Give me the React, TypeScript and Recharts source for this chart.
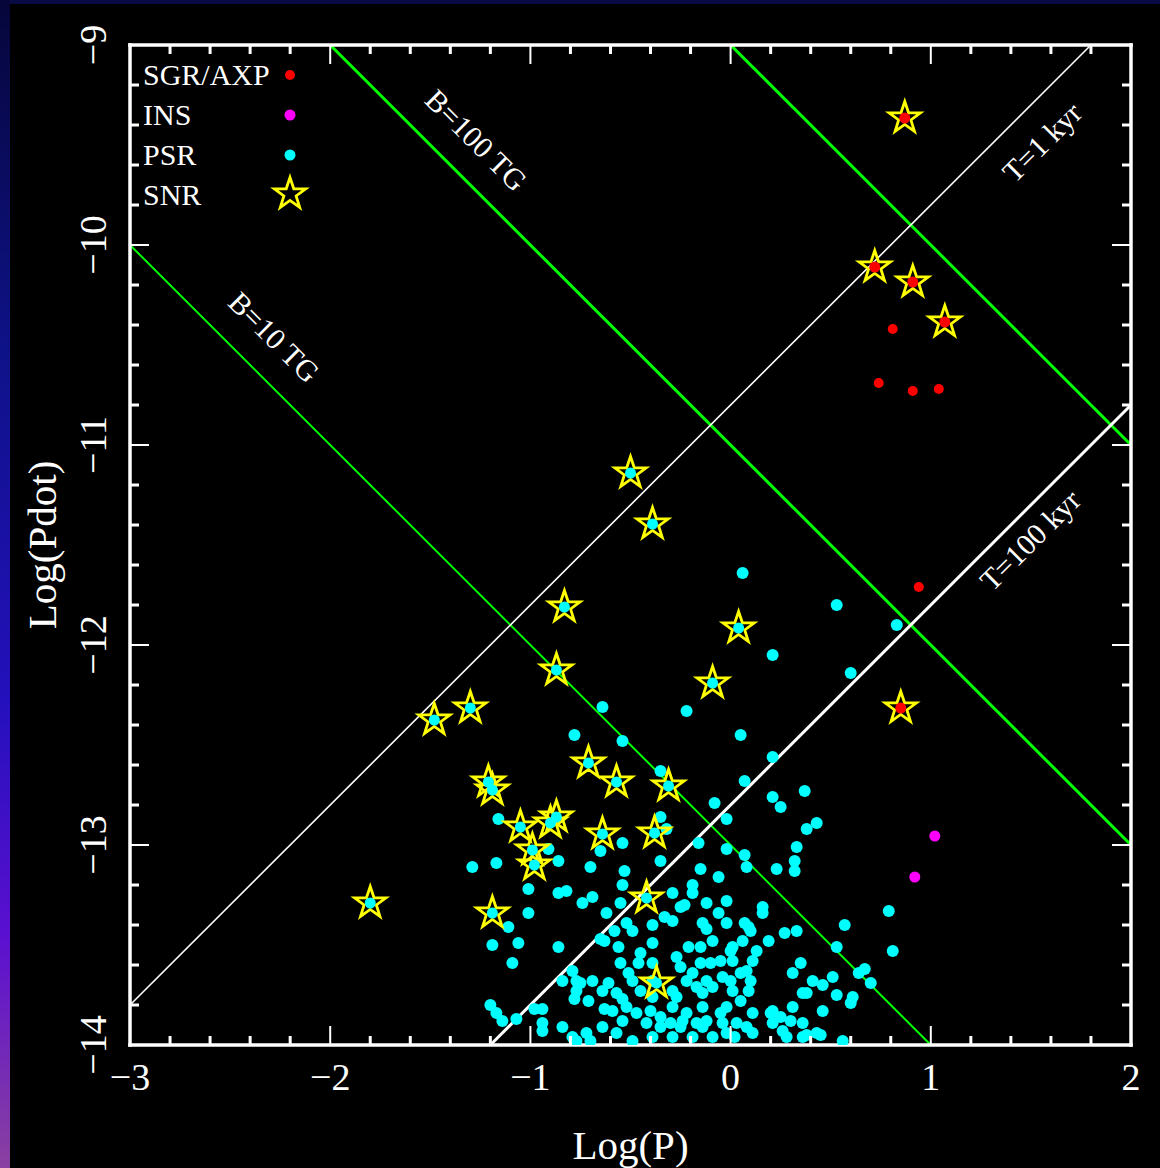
import React from 'react';
import { ScatterChart, Scatter, XAxis, YAxis, ReferenceLine, Legend } from 'recharts';

const WIDTH = 1160;
const HEIGHT = 1168;
const MARGIN = { top: 44, right: 28, bottom: 122, left: 129 };
const FONT = '"Liberation Serif", "DejaVu Serif", Times, serif';

// axis ticks (log units), majors every 1, minors every 0.2
const xTicks = [-3, -2.8, -2.6, -2.4, -2.2, -2, -1.8, -1.6, -1.4, -1.2, -1, -0.8, -0.6, -0.4, -0.2, 0, 0.2, 0.4, 0.6, 0.8, 1, 1.2, 1.4, 1.6, 1.8, 2];
const yTicks = [-14, -13.8, -13.6, -13.4, -13.2, -13, -12.8, -12.6, -12.4, -12.2, -12, -11.8, -11.6, -11.4, -11.2, -11, -10.8, -10.6, -10.4, -10.2, -10, -9.8, -9.6, -9.4, -9.2, -9];

const legendItems = ['SGR/AXP', 'INS', 'PSR', 'SNR'];

// constant field / age lines: [logP1, logPdot1, logP2, logPdot2]
const fieldLines: [number, number, number, number][] = [
  [-3, -10, 1, -14], // B = 10 TG
  [-2, -9, 2, -13], // B = 100 TG
  [0, -9, 2, -11], // B = 1000 TG
];
const ageLines: [number, number, number, number][] = [
  [-3, -13.8, 1.8, -9], // T = 1 kyr
  [-1.2, -14, 2, -10.8], // T = 100 kyr
];

const lineLabelText = ['B=10 TG', 'B=100 TG', 'T=1 kyr', 'T=100 kyr'];
const lineLabelPos: [number, number][] = [[-2.28, -10.46], [-1.27, -9.475], [1.555, -9.485], [1.495, -11.475]];

// SGR / AXP magnetars
const sgr: [number, number][] = [
  [0.81, -10.42], [0.74, -10.69], [0.91, -10.73], [1.04, -10.72], [0.94, -11.71],
];
const sgrInSnr: [number, number][] = [
  [0.87, -9.365], [0.72, -10.11], [0.91, -10.185], [1.07, -10.385], [0.85, -12.315],
];

// isolated neutron stars
const ins: [number, number][] = [[1.02, -12.955], [0.92, -13.16]];

// radio pulsars associated with SNRs
const psrInSnr: [number, number][] = [
  [-0.5, -11.14], [-0.39, -11.395], [-0.83, -11.81], [0.04, -11.915], [-0.87, -12.125], [-0.09, -12.19],
  [-1.48, -12.375], [-1.3, -12.315], [-1.21, -12.685], [-1.19, -12.725], [-0.71, -12.59], [-0.57, -12.685],
  [-0.31, -12.705], [-1.05, -12.91], [-0.9, -12.89], [-0.87, -12.86], [-0.64, -12.945], [-0.38, -12.94],
  [-0.99, -13.025], [-0.98, -13.1], [-0.42, -13.265], [-1.19, -13.34], [-1.8, -13.29], [-0.37, -13.69],
];

// other radio pulsars
const psr: [number, number][] = [
  [0.06, -11.64], [0.53, -11.8], [0.83, -11.9], [0.21, -12.05], [0.6, -12.14], [-0.22, -12.33], [-0.64, -12.31],
  [0.05, -12.45], [-0.54, -12.48], [-0.78, -12.45], [0.21, -12.56], [-0.35, -12.63], [0.07, -12.68], [0.21, -12.76],
  [0.37, -12.73], [0.25, -12.81], [-0.08, -12.79], [-0.35, -12.86], [-0.02, -12.87], [-1.16, -12.87], [0.43, -12.89],
  [0.38, -12.92], [-0.32, -12.92], [-0.16, -12.99], [-0.02, -13.02], [0.07, -13.05], [0.33, -13.01], [0.32, -13.08],
  [0.32, -13.13], [0.23, -13.12], [0.08, -13.11], [-0.54, -12.99], [-0.65, -13.03], [-0.35, -13.08], [-0.91, -13.02],
  [-0.86, -13.08], [-1.29, -13.11], [-1.17, -13.09], [-0.7, -13.11], [-0.53, -13.13], [-0.15, -13.12], [-0.06, -13.16],
  [-0.19, -13.2], [-0.19, -13.24], [-0.29, -13.24], [-0.23, -13.3], [-0.12, -13.29], [-0.02, -13.28], [0.16, -13.31],
  [0.16, -13.34], [-0.06, -13.34], [-0.54, -13.2], [-0.86, -13.24], [-0.82, -13.23], [-1.01, -13.22], [-0.74, -13.29],
  [-0.69, -13.26], [-0.55, -13.29], [-1.01, -13.34], [-0.25, -13.31], [-1.11, -13.41], [-1.19, -13.5], [-1.06, -13.49],
  [-1.09, -13.59], [-0.86, -13.51], [-0.52, -13.39], [-0.49, -13.43], [-0.56, -13.51], [-0.39, -13.4], [-0.39, -13.49],
  [-0.33, -13.36], [-0.29, -13.38], [-0.14, -13.39], [-0.12, -13.42], [-0.09, -13.48], [-0.21, -13.51], [-0.15, -13.51],
  [-0.02, -13.39], [0.01, -13.51], [0.07, -13.39], [0.1, -13.43], [0.19, -13.48], [0.27, -13.44], [0.33, -13.43],
  [-0.79, -13.63], [-0.77, -13.68], [-0.65, -13.47], [-0.55, -13.59], [-0.51, -13.64], [-0.46, -13.59], [-0.49, -13.68],
  [-0.61, -13.69], [-0.57, -13.74], [-0.63, -13.82], [-0.78, -13.77], [-0.71, -13.78], [-0.54, -13.77], [-0.39, -13.59],
  [-0.27, -13.56], [-0.25, -13.61], [-0.22, -13.68], [-0.19, -13.64], [-0.17, -13.71], [-0.12, -13.68], [-0.09, -13.71],
  [-0.04, -13.66], [0, -13.68], [0, -13.53], [0.01, -13.58], [0.08, -13.63], [0.1, -13.68], [0.09, -13.73],
  [-0.02, -13.81], [0.05, -13.78], [0.11, -13.84], [-0.05, -13.84], [-0.14, -13.81], [-0.22, -13.84], [-0.29, -13.81],
  [-0.24, -13.88], [-0.17, -13.89], [-0.3, -13.89], [-0.35, -13.86], [-0.4, -13.83], [-0.47, -13.84], [-0.52, -13.81],
  [-0.64, -13.91], [-0.57, -13.94], [-0.49, -13.98], [-0.39, -13.96], [-0.29, -13.96], [-0.19, -13.96], [-0.14, -13.91],
  [-0.09, -13.96], [-0.02, -13.94], [0.03, -13.89], [0.08, -13.91], [0.2, -13.84], [0.25, -13.86], [0.3, -13.88],
  [0.31, -13.81], [0.36, -13.74], [0.35, -13.59], [0.31, -13.64], [0.21, -13.83], [0.28, -13.96], [0.36, -13.96],
  [0.43, -13.94], [-0.72, -13.94], [-0.77, -13.98], [-0.94, -13.93], [-0.98, -13.82], [-1.07, -13.87], [-1.14, -13.88],
  [-1.17, -13.84], [-1.2, -13.8], [0.41, -13.68], [0.79, -13.33], [0.57, -13.4], [0.53, -13.51], [0.81, -13.53],
  [0.67, -13.62], [0.7, -13.69], [0.64, -13.64], [0.51, -13.66], [0.46, -13.7], [0.53, -13.75], [0.61, -13.76],
  [0.46, -13.83], [0.36, -13.89], [0.45, -13.95], [0.56, -13.98], [-0.62, -13.34], [-0.75, -13.69],
  [-0.59, -13.83], [-0.7, -13.98], [0.11, -13.94], [0.38, -13.74], [0.6, -13.79], [0.38, -13.95], [-0.94, -13.89],
  [-0.58, -13.43], [-0.63, -13.48], [-0.45, -13.54], [-0.39, -13.68], [-0.45, -13.73], [-0.39, -13.76], [-0.29, -13.73],
  [-0.27, -13.76], [-0.14, -13.74], [0.01, -13.73], [-0.05, -13.58], [-0.1, -13.59], [-0.15, -13.59], [0.05, -13.64],
  [0.06, -13.48], [0.11, -13.58], [0.13, -13.53], [0.09, -13.41], [0.26, -13.93], [0.21, -13.89], [0.02, -13.96],
  [-0.04, -13.89], [-0.12, -13.88], [-0.25, -13.91], [-0.35, -13.91], [-0.42, -13.89], [-0.54, -13.88], [-0.64, -13.73],
  [-0.69, -13.68], [-0.77, -13.73], [-0.84, -13.68], [-0.94, -13.82], [-0.84, -13.91], [-0.79, -13.96],
];

const toPts = (a: [number, number][]) => a.map(([x, y]) => ({ x, y }));

const isMajor = (v: number) => Math.abs(v - Math.round(v)) < 1e-6;
const fmt = (v: number) => (v < 0 ? '\u2212' + Math.abs(Math.round(v)) : String(Math.round(v)));

function makeTick(side: 'bottom' | 'top' | 'left' | 'right') {
  return (props: any) => {
    const { x, y, payload } = props;
    const v = payload.value;
    const major = isMajor(v);
    const len = major ? 19 : 9;
    const sw = major ? 2 : 3;
    let x2 = x;
    let y2 = y;
    if (side === 'bottom') y2 = y - len;
    if (side === 'top') y2 = y + len;
    if (side === 'left') x2 = x + len;
    if (side === 'right') x2 = x - len;
    let label = null;
    if (major && side === 'bottom') {
      label = (
        <text x={x} y={y + 45} textAnchor="middle" fill="#fff" fontSize={38} fontFamily={FONT}>{fmt(v)}</text>
      );
    }
    if (major && side === 'left') {
      const lx = x - 24;
      label = (
        <text x={lx} y={y} textAnchor="middle" fill="#fff" fontSize={38} fontFamily={FONT} transform={`rotate(-90 ${lx} ${y})`}>{fmt(v)}</text>
      );
    }
    return (
      <g>
        <line x1={x} y1={y} x2={x2} y2={y2} stroke="#fff" strokeWidth={sw} />
        {label}
      </g>
    );
  };
}

const starPoints = (cx: number, cy: number, R: number) => {
  const r = R * 0.39;
  const pts: string[] = [];
  for (let i = 0; i < 10; i++) {
    const a = (-90 + i * 36) * (Math.PI / 180);
    const rad = i % 2 === 0 ? R : r;
    pts.push(`${cx + rad * Math.cos(a)},${cy + rad * Math.sin(a)}`);
  }
  return pts.join(' ');
};

const Star = ({ cx, cy }: any) => (
  <polygon points={starPoints(cx, cy, 16.5)} fill="none" stroke="#ffff00" strokeWidth={2.8} strokeLinejoin="miter" />
);
const dot = (color: string, r: number) => ({ cx, cy }: any) => <circle cx={cx} cy={cy} r={r} fill={color} />;

const labelAngles = [45, 45, -45, -45];
const LineLabel = ({ cx, cy, payload }: any) => (
  <text
    x={cx}
    y={cy}
    textAnchor="middle"
    dominantBaseline="central"
    fill="#fff"
    fontSize={30}
    fontFamily={FONT}
    transform={`rotate(${labelAngles[payload.i]} ${cx} ${cy})`}
  >
    {payload.text}
  </text>
);

const LegendBox = () => {
  const markers = [
    <circle key="a" cx={290} cy={75} r={5} fill="#ff0000" />,
    <circle key="b" cx={290} cy={115} r={5.5} fill="#ff00ff" />,
    <circle key="c" cx={290} cy={155} r={5.5} fill="#00ffff" />,
    <polygon key="d" points={starPoints(290, 194, 16.5)} fill="none" stroke="#ffff00" strokeWidth={2.8} />,
  ];
  return (
    <svg width={330} height={230} style={{ display: 'block' }}>
      {legendItems.map((t, i) => (
        <text key={t} x={143} y={85 + i * 40} fill="#fff" fontSize={30} fontFamily={FONT}>{t}</text>
      ))}
      {markers}
    </svg>
  );
};

const axisLine = { stroke: '#fff', strokeWidth: 3.5, strokeLinecap: 'square' as const };

export default function App() {
  const labels = lineLabelText.map((text, i) => ({ x: lineLabelPos[i][0], y: lineLabelPos[i][1], text, i }));
  const fieldStyle = [2, 3, 3];
  const ageStyle = [1.6, 3];
  return (
    <div style={{ position: 'absolute', left: 0, top: 0, width: WIDTH, height: HEIGHT, background: '#000', overflow: 'hidden' }}>
      <div style={{ position: 'absolute', left: 0, top: 0, width: WIDTH, height: 4, background: '#0a0a44' }} />
      <div
        style={{
          position: 'absolute', left: 0, top: 0, width: 10, height: HEIGHT,
          background: 'linear-gradient(to bottom, #06063a 0%, #0e1288 30%, #2410bc 60%, #5a10d0 80%, #8a40a0 100%)',
        }}
      />
      <div style={{ position: 'absolute', left: 0, top: 0 }}>
        <ScatterChart width={WIDTH} height={HEIGHT} margin={MARGIN}>
          <XAxis
            type="number" dataKey="x" domain={[-3, 2]} allowDataOverflow ticks={xTicks} interval={0}
            height={1} tickSize={0} tickMargin={0} tickLine={false} tick={makeTick('bottom')}
            axisLine={axisLine}
            label={{
              content: (p: any) => {
                const vb = p.viewBox || { x: 130, y: 1045, width: 1001 };
                return (
                  <text x={vb.x + vb.width / 2} y={vb.y + 114} textAnchor="middle" fill="#fff" fontSize={41} fontFamily={FONT}>Log(P)</text>
                );
              },
            }}
          />
          <XAxis
            xAxisId="top" orientation="top" type="number" dataKey="x" domain={[-3, 2]} allowDataOverflow ticks={xTicks}
            interval={0} height={1} tickSize={0} tickMargin={0} tickLine={false} tick={makeTick('top')}
            axisLine={axisLine}
          />
          <YAxis
            type="number" dataKey="y" domain={[-14, -9]} allowDataOverflow ticks={yTicks} interval={0}
            width={1} tickSize={0} tickMargin={0} tickLine={false} tick={makeTick('left')}
            axisLine={axisLine}
            label={{
              content: (p: any) => {
                const vb = p.viewBox || { x: 129, y: 45, width: 1, height: 1000 };
                const tx = vb.x + (vb.width || 0) - 74;
                const ty = vb.y + vb.height / 2;
                return (
                  <text x={tx} y={ty} textAnchor="middle" fill="#fff" fontSize={41} fontFamily={FONT} transform={`rotate(-90 ${tx} ${ty})`}>Log(Pdot)</text>
                );
              },
            }}
          />
          <YAxis
            yAxisId="right" orientation="right" type="number" dataKey="y" domain={[-14, -9]} allowDataOverflow ticks={yTicks}
            interval={0} width={1} tickSize={0} tickMargin={0} tickLine={false} tick={makeTick('right')}
            axisLine={axisLine}
          />

          {fieldLines.map(([x1, y1, x2, y2], i) => (
            <ReferenceLine key={'b' + i} segment={[{ x: x1, y: y1 }, { x: x2, y: y2 }]} stroke="#00ff00" strokeWidth={fieldStyle[i]} ifOverflow="visible" />
          ))}
          {ageLines.map(([x1, y1, x2, y2], i) => (
            <ReferenceLine key={'t' + i} segment={[{ x: x1, y: y1 }, { x: x2, y: y2 }]} stroke="#ffffff" strokeWidth={ageStyle[i]} ifOverflow="visible" />
          ))}

          <Scatter name="labels" data={labels} shape={LineLabel} isAnimationActive={false} legendType="none" />
          <Scatter name="PSR" data={toPts(psr)} shape={dot('#00ffff', 6)} isAnimationActive={false} />
          <Scatter name="SNR" data={toPts(psrInSnr.concat(sgrInSnr))} shape={Star} isAnimationActive={false} />
          <Scatter name="PSR in SNR" data={toPts(psrInSnr)} shape={dot('#00ffff', 5.5)} isAnimationActive={false} />
          <Scatter name="SGR/AXP" data={toPts(sgr)} shape={dot('#ff0000', 5)} isAnimationActive={false} />
          <Scatter name="SGR/AXP in SNR" data={toPts(sgrInSnr)} shape={dot('#ff0000', 5.5)} isAnimationActive={false} />
          <Scatter name="INS" data={toPts(ins)} shape={dot('#ff00ff', 5.5)} isAnimationActive={false} />

          <Legend
            layout="horizontal" verticalAlign="middle" align="center"
            wrapperStyle={{ left: 0, top: 0, width: 330, height: 230 }}
            content={() => <LegendBox />}
          />
        </ScatterChart>
      </div>
    </div>
  );
}
